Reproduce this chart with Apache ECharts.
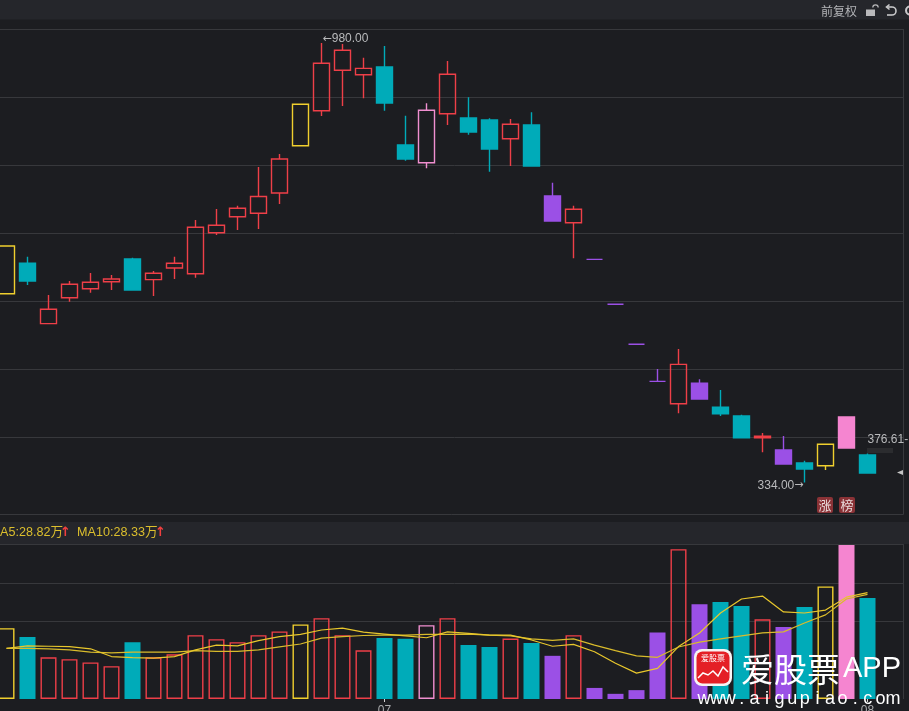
<!DOCTYPE html>
<html><head><meta charset="utf-8">
<style>html,body{margin:0;padding:0;background:#1c1d21;overflow:hidden}#c{width:909px;height:711px}</style>
<script src="https://cdn.jsdelivr.net/npm/echarts@6/dist/echarts.min.js"></script>
</head><body><div id="c"></div>
<script>
const categories = ['','','','','','','','','','','','','','','','','','','07','','','','','','','','','','','','','','','','','','','','','','','08','',''];
// open, close, low, high
const candles = [
[611.5,681.6,611.5,681.6],[656.2,630.2,624.3,665.9],[567.4,588.5,567.4,609.6],[605.6,625.3,599.7,630.2],[618.8,628.2,612.9,641.9],[629.1,633.1,616.9,639],
[662.5,616.9,616.9,664.4],[632.1,641.5,608.1,644.9],[649.3,656.2,633.1,665.9],[640.9,709.1,635,719.9],[701.2,712.1,697.8,736],[724.7,737.1,705.1,740.9],
[729.7,754.4,706.6,797.8],[759.6,809.6,743.4,816.9],[829.1,890,829.1,890],[880.6,950.3,872.8,980],[940,969.4,887.5,978.7],[933.5,942.9,898.8,958.5],
[944.9,891.9,880.6,975.7],[830.1,809.6,807.1,873.2],[804.1,881.2,795.9,891.5],[876.2,934.1,859.6,953.7],[869.9,849.3,845.3,900.3],[866.9,824.3,790.9,869.4],
[839.4,860.6,799.3,868.4],[859.6,799.3,799.3,878.2],[755.1,718.4,718.4,774.7],[715.9,735.6,663.5,740.9],[662,662,662,662],[595.9,595.9,595.9,595.9],
[537.1,537.1,537.1,537.1],[482.6,482.6,482.6,500.7],[449.7,507.6,435.6,530.1],[479.7,456.6,456.6,485.6],[444.4,435,431.6,469.9],[431.6,399.7,399.7,433.5],
[399.6,401.8,378.2,406.6],[381.6,361,361,402.2],[362.5,353.7,334,365.9],[358.5,390,352.2,390],[384.6,430.1,384.6,430.1],[374.3,347.8,347.8,376.61]];
const kinds = ['y','t','r','r','r','r','t','r','r','r','r','r','r','r','y','r','r','r','t','t','p','r','t','t','r','t','u','r','u','u','u','u','r','u','t','t','R','u','t','y','P','t'];
const volumes = [19.2,16.8,11.3,10.8,9.9,8.9,15.4,11.3,12.1,17.3,16.2,15.4,17.3,18.3,20.2,21.9,17.3,13.2,16.5,16.3,20,21.9,14.6,14.1,16.4,15.2,11.7,17.3,3,1.4,2.4,18,40.6,25.7,26.3,25.2,21.6,19.5,24.9,30.5,42,27.4];
const ma5 = [13.7,14.4,14.3,14.2,13.6,11.5,11.2,11.1,11.5,13.3,14.6,14.4,15.8,16.9,17.5,18.7,19.2,18.1,17.6,17.1,16.6,18.2,17.8,17.3,17.3,16,14.3,14.8,12.8,9.7,7,8.3,14.2,17.9,23.3,27.1,27.9,23.6,23.3,24.1,27.6,28.82];
const ma10 = [13.7,13.7,13.6,13.3,12.7,12.5,12.7,12.7,12.7,13.1,12.9,12.9,13.3,14.1,14.9,16.5,16.9,17.2,17.3,17.3,17.5,17.5,17.6,17.3,17.1,16.3,15.9,16.3,14.6,13.1,11.7,11.3,14.1,15.4,16.3,17.1,17.9,18.2,20.6,22.8,27.1,28.33];

const bg='#1c1d21', band='#25262b', gridC='#37383c';
const palette = {r:['#ee3f48',false],R:['#f03f46',true],t:['#00abb9',true],y:['#f0cf2e',false],p:['#f08fd0',false],P:['#f585d0',true],u:['#9b50e6',true]};
const candleData = candles.map((v,i)=>{const [c,f]=palette[kinds[i]];const fill=f?c:'transparent';
  return {value:v,itemStyle:{color:fill,color0:fill,borderColor:c,borderColor0:c,borderColorDoji:c,borderWidth:1.4}};});
const volData = volumes.map((v,i)=>{const k=kinds[i]==='R'?'r':kinds[i];const [c,f]=palette[k];
  return {value:v,itemStyle:f?{color:c,borderWidth:0}:{color:'transparent',borderColor:c,borderWidth:1.4}};});
const note=(i,val,text,pos,off)=>({coord:[i,val],symbol:'circle',symbolSize:0,label:{show:true,position:pos,distance:0,offset:off,formatter:text,color:'#b9babc',fontSize:12,fontFamily:'Liberation Sans, Arial, sans-serif',rich:{a:{fontFamily:'DejaVu Sans',fontSize:11,color:'#b9babc'}}}});
const T=(x,y,text,font,fill,align,z,extra)=>({type:'text',z:z||63,silent:true,x,y,style:Object.assign({text,font,fill,textAlign:align||'left',textVerticalAlign:'middle'},extra||{})});
const R=(x,y,w,h,fill,z,r)=>({type:'rect',z:z===undefined?60:z,silent:true,shape:{x,y,width:w,height:h,r:r||0},style:{fill}});
const L=(x1,y1,x2,y2,c,w)=>({type:'line',z:61,silent:true,shape:{x1,y1,x2,y2},style:{stroke:c,lineWidth:w||1}});
const site='www.aigupiao.com'.split('').map((ch,i)=>T(704+i*12.6,699.5,ch,'18px "Liberation Sans"','#ffffff','center',70,{shadowBlur:2,shadowColor:'#000'}));

const chart=echarts.init(document.getElementById('c'),null,{renderer:'canvas'});
chart.setOption({
 animation:false,backgroundColor:bg,
 grid:[{left:-4,width:924,top:29.5,height:476,outerBoundsMode:'none'},{left:-4,width:924,top:544,height:155,outerBoundsMode:'none'}],
 xAxis:[
  {type:'category',gridIndex:0,data:categories,axisLine:{show:false},axisTick:{show:false},axisLabel:{show:false},splitLine:{show:false}},
  {type:'category',gridIndex:1,data:categories,axisLine:{show:false},
   axisTick:{show:true,alignWithLabel:true,length:3,interval:(i)=>categories[i]!=='',lineStyle:{color:'#d5d5d5'}},
   axisLabel:{show:true,interval:0,margin:6,color:'#aaabad',fontSize:12,fontFamily:'Liberation Sans'},splitLine:{show:false}}
 ],
 yAxis:[
  {type:'value',gridIndex:0,min:300,max:1000,interval:100,axisLine:{show:false},axisTick:{show:false},axisLabel:{show:false},
   splitLine:{show:true,lineStyle:{color:['transparent',gridC,gridC,gridC,gridC,gridC,gridC,gridC],width:1}}},
  {type:'value',gridIndex:1,min:0,max:42,interval:10.5,axisLine:{show:false},axisTick:{show:false},axisLabel:{show:false},
   splitLine:{show:true,lineStyle:{color:['transparent','transparent',gridC,gridC,gridC],width:1}}}
 ],
 series:[
  {type:'candlestick',xAxisIndex:0,yAxisIndex:0,barWidth:16,data:candleData,
   markPoint:{z:65,animation:false,data:[note(15,980,'{a|←}980.00','right',[1,-4]),note(38,334,'334.00{a|→}','left',[-1,3]),note(41,376.61,'376.61-','right',[0,-14])]}},
  {type:'bar',xAxisIndex:1,yAxisIndex:1,barWidth:16,data:volData,clip:true},
  {type:'line',name:'MA10',xAxisIndex:1,yAxisIndex:1,data:ma10,showSymbol:false,symbol:'none',smooth:false,z:4,lineStyle:{color:'#d9bb2b',width:1.2}},
  {type:'line',name:'MA5',xAxisIndex:1,yAxisIndex:1,data:ma5,showSymbol:false,symbol:'none',smooth:false,z:5,lineStyle:{color:'#e8c72c',width:1.2}}
 ],
 graphic:{elements:[
  R(904,20,5,691,bg,50),
  R(0,0,909,19.5,band,51),
  R(0,522,909,22,band,51),
  L(0,29.5,903.5,29.5,gridC),L(903.5,29.5,903.5,514.5,gridC),L(0,514.5,903.5,514.5,gridC),
  L(0,544.5,903.5,544.5,gridC),L(903.5,544.5,903.5,699,gridC),
  T(821,11,'前复权','12px "Noto Sans CJK SC"','#b4b5b8'),
  R(866,9.5,9,6.5,'#b9b9bb',61),
  {type:'arc',z:61,silent:true,shape:{cx:875.5,cy:7.5,r:2.7,startAngle:Math.PI,endAngle:2*Math.PI},style:{fill:'none',stroke:'#b9b9bb',lineWidth:1.3}},
  {type:'arc',z:61,silent:true,shape:{cx:892,cy:11,r:4,startAngle:-Math.PI/2,endAngle:Math.PI/2},style:{fill:'none',stroke:'#c8c8ca',lineWidth:1.6}},
  {type:'polyline',z:61,silent:true,shape:{points:[[889.5,4.5],[886.5,7],[889.5,9.5]]},style:{fill:'none',stroke:'#c8c8ca',lineWidth:1.6}},
  L(887,7,892,7,'#c8c8ca',1.6),L(887,15,892,15,'#c8c8ca',1.6),
  {type:'circle',z:61,silent:true,shape:{cx:910,cy:10.5,r:4},style:{fill:'none',stroke:'#c8c8ca',lineWidth:2}},
  T(-10.5,532.5,'MA5:28.82万','12.6px "Liberation Sans","Noto Sans CJK SC"','#dcbf2d'),
  T(60,532.5,'↑','bold 13px "DejaVu Sans"','#f03f3f'),
  T(77,532.5,'MA10:28.33万','12.6px "Liberation Sans","Noto Sans CJK SC"','#dcbf2d'),
  T(155,532.5,'↑','bold 13px "DejaVu Sans"','#f03f3f'),
  R(867,448,26,5,'#2b2c2f',61),
  {type:'polygon',z:61,silent:true,shape:{points:[[897,472.5],[903,470],[903,475]]},style:{fill:'#c4c4c4'}},
  R(817,497,16,16,'#8a3236',61,2),R(839,497,16,16,'#8a3236',61,2),
  T(825,505.5,'涨','13px "Noto Sans CJK SC"','#eadcdc','center'),
  T(847,505.5,'榜','13px "Noto Sans CJK SC"','#eadcdc','center'),
  R(694,649,38,37,'#f7f4f4',70,8),
  R(696.5,651.5,33,32,'#e41f26',71,6),
  T(713,658,'爱股票','8px "Noto Sans CJK SC"','#ffffff','center',72),
  {type:'polyline',z:72,silent:true,shape:{points:[[698,678],[703,673],[708,675],[713,671],[718,676],[723,667],[728,672]]},style:{fill:'none',stroke:'#fff',lineWidth:1.5}},
  T(741,669,'爱股票','33px "Noto Sans CJK SC"','#ffffff','left',70,{shadowBlur:3,shadowColor:'#000'}),
  T(843,669,'APP','29px "Liberation Sans"','#ffffff','left',70,{shadowBlur:3,shadowColor:'#000'})
 ].concat(site)}
});
</script></body></html>
